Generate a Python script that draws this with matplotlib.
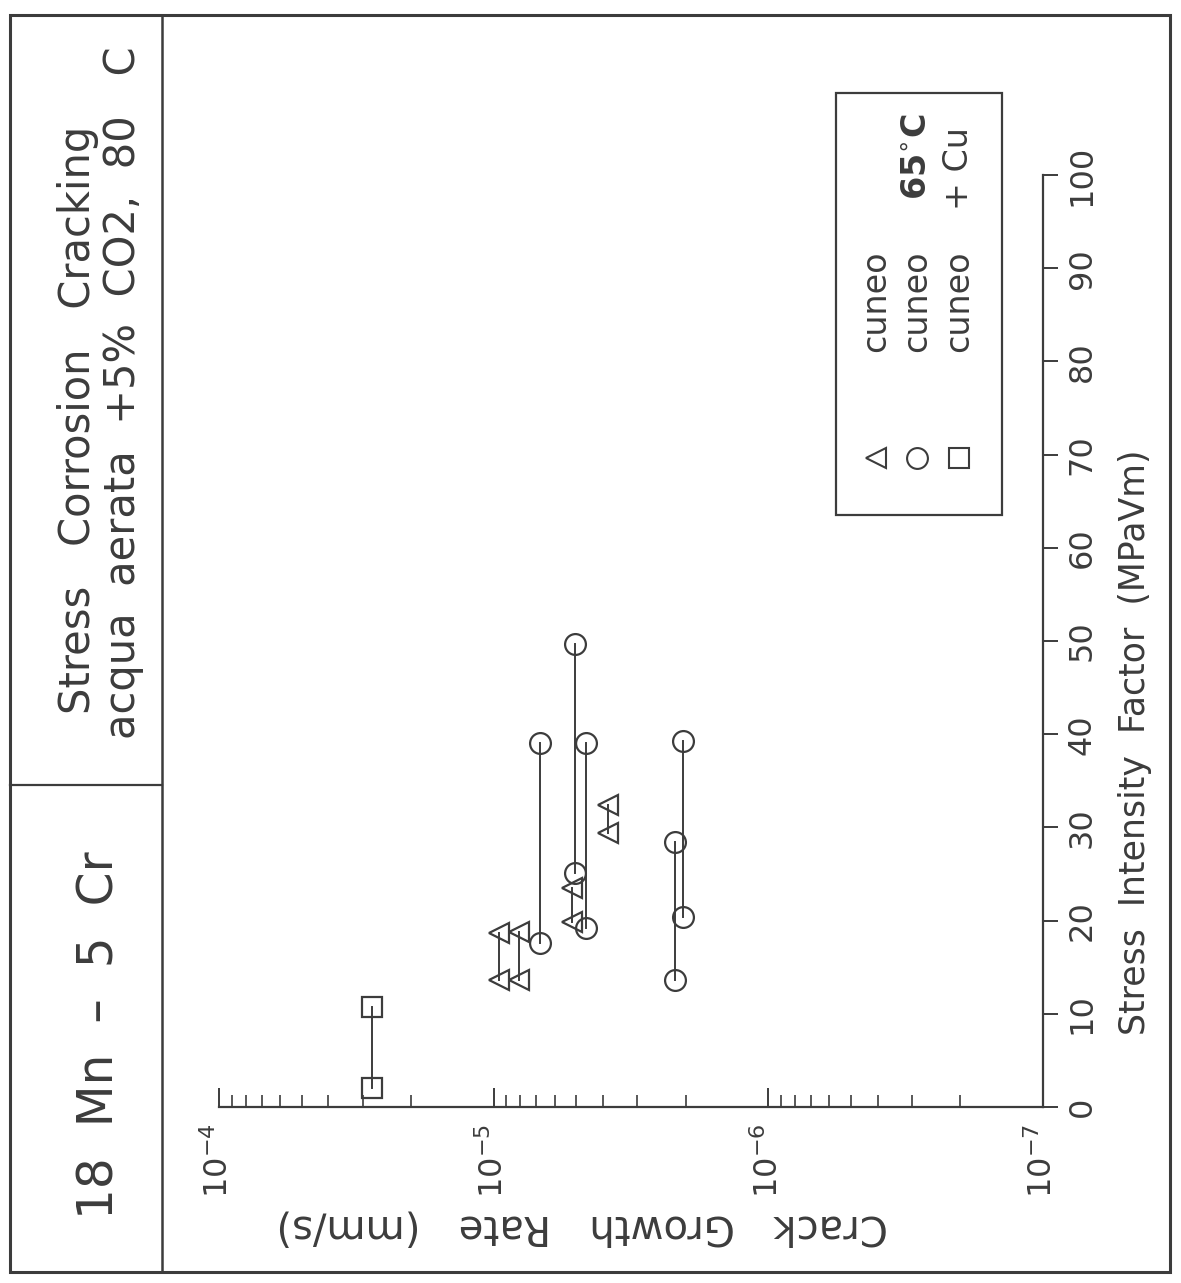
import numpy as np
import matplotlib.pyplot as plt
from matplotlib.patches import Rectangle
from matplotlib.lines import Line2D
from matplotlib.ticker import FixedLocator, FixedFormatter, LogLocator, NullFormatter

# valori: K in MPa*sqrt(m), velocita' in mm/s
tri_rate = [9.6e-6, 8.1e-6, 5.2e-6, 3.85e-6]
tri_k_low = [13.6, 13.6, 19.8, 29.4]
tri_k_high = [18.7, 18.8, 23.5, 32.4]

circ_rate = [6.8e-6, 5.07e-6, 4.6e-6, 2.18e-6, 2.04e-6]
circ_k_low = [17.6, 25.1, 19.2, 13.6, 20.4]
circ_k_high = [39.1, 49.7, 39.1, 28.4, 39.3]

sq_rate = [2.78e-5]
sq_k_low = [2.0]
sq_k_high = [10.7]

k_ticks = [0, 10, 20, 30, 40, 50, 60, 70, 80, 90, 100]
rate_ticks = [1e-4, 1e-5, 1e-6, 1e-7]
rate_tick_labels = [r'$10^{-4}$', r'$10^{-5}$', r'$10^{-6}$', r'$10^{-7}$']

legend_names = ['cuneo', 'cuneo', 'cuneo']
legend_notes = ['', r'65$^{\circ}$C', '+ Cu']

title_1 = 'Stress   Corrosion   Cracking'
title_2 = 'acqua  aerata  +5%  CO2,  80   C'
material = '18  Mn  \u2013  5  Cr'
xlabel = 'Stress  Intensity  Factor  (MPaVm)'
ylabel = 'Crack   Growth   Rate   (mm/s)'

INK = '#3c3c3c'
W, H = 1181, 1283


def fx(x):
    return x / W


def fy(y):
    return 1 - y / H


fig = plt.figure(figsize=(W / 100, H / 100), dpi=100)
fig.patch.set_facecolor('white')

# il grafico originale e' ruotato di 90 gradi: K in verticale, velocita' in orizzontale
ax = fig.add_axes([fx(219), fy(1107), fx(1043) - fx(219), fy(175) - fy(1107)])
ax.set_xscale('log')
ax.set_xlim(1e-4, 1e-7)
ax.set_ylim(0, 100)
ax.spines['top'].set_visible(False)
ax.spines['left'].set_visible(False)
for s in ('bottom', 'right'):
    ax.spines[s].set_color(INK)
    ax.spines[s].set_linewidth(1.6)

ax.yaxis.tick_right()
ax.yaxis.set_major_locator(FixedLocator(k_ticks))
ax.tick_params(axis='y', direction='out', length=11, width=1.4, pad=6,
               labelsize=23, labelrotation=90, colors=INK)
for lab in ax.get_yticklabels():
    lab.set_va('center')

ax.xaxis.set_major_locator(FixedLocator(rate_ticks))
ax.xaxis.set_major_formatter(FixedFormatter(rate_tick_labels))
ax.xaxis.set_minor_locator(LogLocator(base=10, subs=np.arange(2, 10)))
ax.xaxis.set_minor_formatter(NullFormatter())
ax.tick_params(axis='x', which='major', direction='in', length=14, width=1.4,
               pad=12, labelsize=23, labelrotation=90, colors=INK)
ax.tick_params(axis='x', which='minor', direction='in', length=9, width=1.2,
               colors=INK)

style = dict(color=INK, lw=1.4, mfc='none', mec=INK, mew=1.6, clip_on=False)
for r, k0, k1 in zip(tri_rate, tri_k_low, tri_k_high):
    ax.plot([r, r], [k0, k1], marker='<', ms=15, **style)
for r, k0, k1 in zip(circ_rate, circ_k_low, circ_k_high):
    ax.plot([r, r], [k0, k1], marker='o', ms=15, **style)
for r, k0, k1 in zip(sq_rate, sq_k_low, sq_k_high):
    ax.plot([r, r], [k0, k1], marker='s', ms=14, **style)

# etichette degli assi
fig.text(fx(1135), fy(742), xlabel, rotation=90, ha='center', va='center',
         fontsize=25, color=INK)
fig.text(fx(582), fy(1226), ylabel, rotation=180, ha='center', va='center',
         fontsize=29, color=INK)

# legenda
fig.add_artist(Rectangle((fx(836), fy(515)), fx(1002) - fx(836), fy(93) - fy(515),
                         transform=fig.transFigure, fill=False, ec=INK, lw=1.6))
leg_x = [876, 917, 959]
for xx, m, name, note in zip(leg_x, ['<', 'o', 's'], legend_names, legend_notes):
    fig.add_artist(Line2D([fx(xx)], [fy(458)], marker=m, ms=15, mfc='none',
                          mec=INK, mew=1.5, transform=fig.transFigure))
    fig.text(fx(xx), fy(352), name, rotation=90, rotation_mode='anchor',
             ha='left', va='center', fontsize=24, color=INK)
    if note:
        bold = note.startswith('65')
        fig.text(fx(xx), fy(200 if bold else 210), note, rotation=90,
                 rotation_mode='anchor', ha='left', va='center', fontsize=24,
                 color=INK, fontweight='bold' if bold else 'normal')

# cornice e riquadri del titolo
fig.add_artist(Rectangle((fx(10), fy(1272)), fx(1170) - fx(10), fy(15) - fy(1272),
                         transform=fig.transFigure, fill=False, ec=INK, lw=2.2))
fig.add_artist(Line2D([fx(162), fx(162)], [fy(15), fy(1272)], color=INK, lw=1.8,
                      transform=fig.transFigure))
fig.add_artist(Line2D([fx(10), fx(162)], [fy(785), fy(785)], color=INK, lw=1.6,
                      transform=fig.transFigure))
fig.text(fx(78), fy(420), title_1, rotation=90, ha='center', va='center',
         fontsize=30, color=INK)
fig.text(fx(123), fy(393), title_2, rotation=90, ha='center', va='center',
         fontsize=30, color=INK)
fig.text(fx(100), fy(1035), material, rotation=90, ha='center', va='center',
         fontsize=35, color=INK)

fig.savefig('out.png', dpi=100, facecolor='white')
